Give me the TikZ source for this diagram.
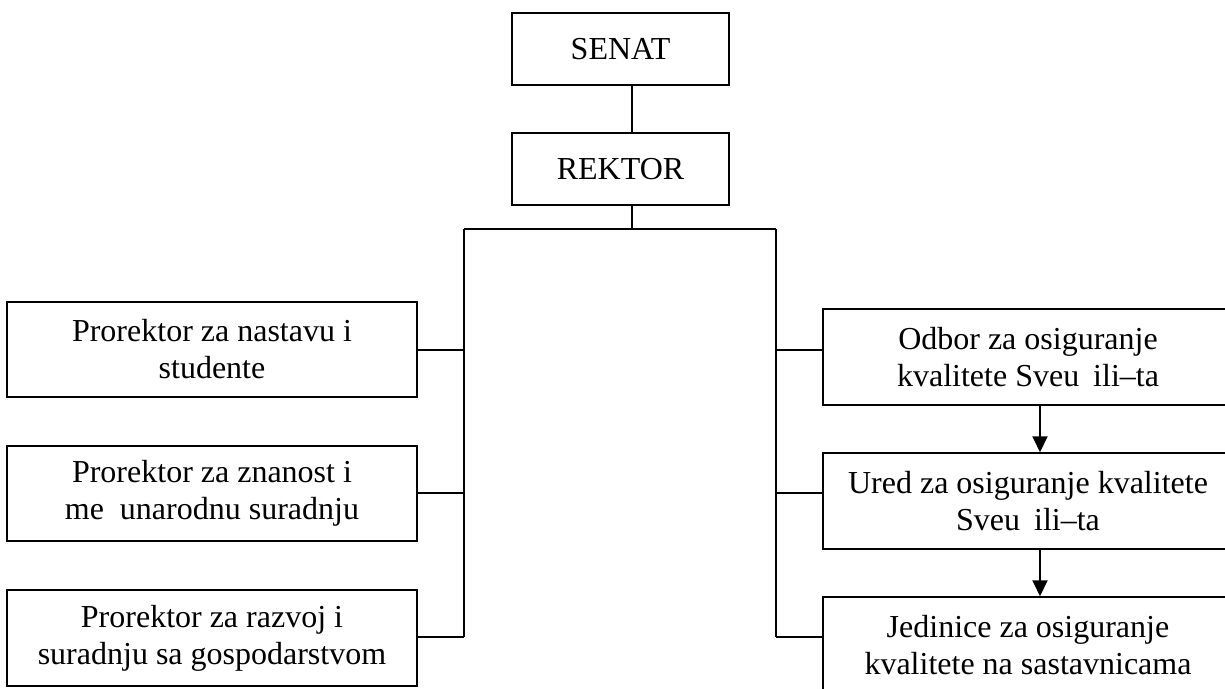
\documentclass[tikz,border=0pt]{standalone}
\usepackage{fontspec}
\setmainfont{Liberation Serif}
\usetikzlibrary{arrows.meta}

\tikzset{
  unit/.style={draw, rectangle, line width=1pt, align=center,
    font=\fontsize{16pt}{18.5pt}\selectfont, inner sep=0pt},
  headbox/.style={unit, minimum width=108.5pt, minimum height=36pt},
  widebox/.style={unit, minimum width=205pt, minimum height=47.75pt},
  link/.style={line width=1pt},
  flow/.style={line width=1pt, -{Triangle[width=7.5pt,length=8pt]}}
}

\begin{document}
\begin{tikzpicture}[x=0.5pt, y=-0.5pt]
  \useasboundingbox (0,0) rectangle (1225,689);
  \node[headbox] (senat) at (620.5,49) {SENAT};
  \node[headbox] (rektor) at (620.5,169) {REKTOR};
  \node[widebox] (nastava) at (212,349.5) {Prorektor za nastavu i\\studente};
  \node[widebox] (znanost) at (212,493.5) {Prorektor za znanost i\\me\hspace{8pt}unarodnu suradnju};
  \node[widebox] (razvoj) at (212,638) {Prorektor za razvoj i\\suradnju sa gospodarstvom};
  \node[widebox] (odbor) at (1028,357) {Odbor za osiguranje\\kvalitete Sveu\hspace{7pt}ili–ta};
  \node[widebox] (ured) at (1028,501) {Ured za osiguranje kvalitete\\Sveu\hspace{7pt}ili–ta};
  \node[widebox] (jedinice) at (1028,645) {Jedinice za osiguranje\\kvalitete na sastavnicama};
  \coordinate (mid) at (632,229);
  \coordinate (lbus) at (464,229);
  \coordinate (rbus) at (776,229);
  \coordinate (l1) at (464,350);
  \coordinate (l2) at (464,493);
  \coordinate (l3) at (464,637);
  \coordinate (r1) at (776,350);
  \coordinate (r2) at (776,493);
  \coordinate (r3) at (776,637);
  \coordinate (chain) at (1040,0);
  % Draw the top of the chart
  \draw[link] (senat.south -| mid) -- (rektor.north -| mid);
  \draw[link] (rektor.south -| mid) -- (mid);
  \draw[link] (lbus) -- (rbus);
  % Draw the left branch
  \draw[link] (lbus) -- (l3);
  \draw[link] (l1) -- (l1 -| nastava.east);
  \draw[link] (l2) -- (l2 -| znanost.east);
  \draw[link] (l3) -- (l3 -| razvoj.east);
  % Draw the right branch
  \draw[link] (rbus) -- (r3);
  \draw[link] (r1) -- (r1 -| odbor.west);
  \draw[link] (r2) -- (r2 -| ured.west);
  \draw[link] (r3) -- (r3 -| jedinice.west);
  \draw[flow] (odbor.south -| chain) -- (ured.north -| chain);
  \draw[flow] (ured.south -| chain) -- (jedinice.north -| chain);
\end{tikzpicture}
\end{document}
